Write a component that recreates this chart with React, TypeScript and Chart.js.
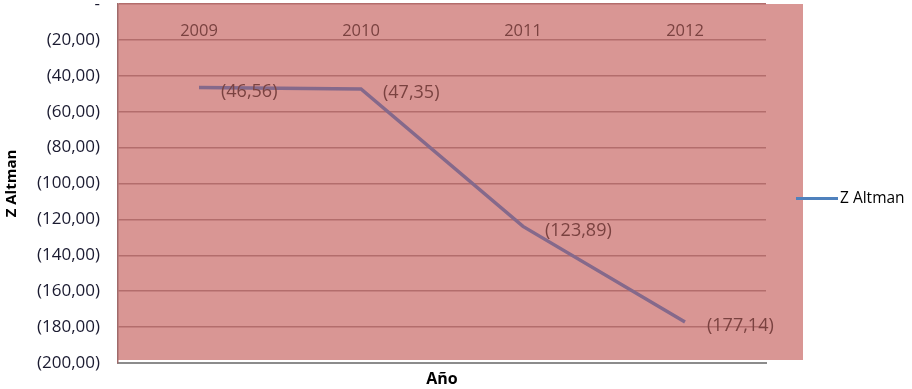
import { useEffect, useRef } from "react";
import { Chart, registerables } from "chart.js";

Chart.register(...registerables);

// Z Altman score per year
const years = ["2009", "2010", "2011", "2012"];
const zAltman = [-46.56, -47.35, -123.89, -177.14];
const seriesName = "Z Altman";
const xTitle = "Año";
const yTitle = "Z Altman";
const yMin = -200;
const yMax = 0;
const yStep = 20;

const FONT = "'Open Sans', 'Noto Sans', sans-serif";
const PLOT_BG = "#d99694";
const GRID = "#b36d6c";
const LINE = "#85698b";
const LABEL_TEXT = "#7a4240";
const LEGEND_LINE = "#4f81bd";

// accounting style: negatives in parentheses, zero as a dash
const fmt = (v: number) =>
  v === 0 ? "-" : `(${Math.abs(v).toFixed(2).replace(".", ",")})`;

const plotBackground = {
  id: "plotBackground",
  beforeDraw(chart: any) {
    const { ctx, chartArea } = chart;
    ctx.save();
    ctx.fillStyle = PLOT_BG;
    ctx.fillRect(
      chartArea.left,
      chartArea.top,
      chartArea.right - chartArea.left + 37,
      chartArea.bottom - chartArea.top - 3
    );
    ctx.restore();
  },
};

const categoryLabels = {
  id: "categoryLabels",
  afterDraw(chart: any) {
    const { ctx, chartArea } = chart;
    const xs = chart.scales.x;
    ctx.save();
    ctx.font = `16.5px ${FONT}`;
    ctx.fillStyle = LABEL_TEXT;
    ctx.textAlign = "center";
    ctx.textBaseline = "middle";
    years.forEach((y, i) => {
      ctx.fillText(y, xs.getPixelForValue(i), chartArea.top + 27);
    });
    ctx.restore();
  },
};

const valueLabels = {
  id: "valueLabels",
  afterDatasetsDraw(chart: any) {
    const { ctx } = chart;
    const meta = chart.getDatasetMeta(0);
    ctx.save();
    ctx.font = `18px ${FONT}`;
    ctx.fillStyle = LABEL_TEXT;
    ctx.textAlign = "left";
    ctx.textBaseline = "middle";
    meta.data.forEach((pt: any, i: number) => {
      ctx.fillText(fmt(zAltman[i]), pt.x + 22, pt.y + 4);
    });
    ctx.restore();
  },
};

const sideLegend = {
  id: "sideLegend",
  afterDraw(chart: any) {
    const { ctx, chartArea } = chart;
    const x0 = chartArea.right + 30;
    const y = (chartArea.top + chartArea.bottom) / 2 + 15;
    ctx.save();
    ctx.strokeStyle = LEGEND_LINE;
    ctx.lineWidth = 3;
    ctx.beginPath();
    ctx.moveTo(x0, y);
    ctx.lineTo(x0 + 42, y);
    ctx.stroke();
    ctx.font = `15.5px ${FONT}`;
    ctx.fillStyle = "#000";
    ctx.textAlign = "left";
    ctx.textBaseline = "middle";
    ctx.fillText(chart.data.datasets[0].label, x0 + 44, y);
    ctx.restore();
  },
};

export default function App() {
  const ref = useRef<HTMLCanvasElement>(null);

  useEffect(() => {
    if (!ref.current) return;
    const chart = new Chart(ref.current, {
      type: "line",
      data: {
        labels: years,
        datasets: [
          {
            label: seriesName,
            data: zAltman,
            borderColor: LINE,
            borderWidth: 3.5,
            pointRadius: 0,
            tension: 0,
            fill: false,
          },
        ],
      },
      options: {
        responsive: false,
        animation: false,
        layout: { padding: { top: 4, right: 146, left: 0, bottom: 0 } },
        plugins: {
          legend: { display: false },
          tooltip: { enabled: false },
        },
        scales: {
          x: {
            type: "category",
            position: "bottom",
            offset: true,
            grid: { display: false, drawTicks: false },
            border: { color: "#8c8c8c", width: 2 },
            ticks: { display: false },
            title: {
              display: true,
              text: xTitle,
              color: "#000",
              font: { family: FONT, size: 16, weight: "bold" },
              padding: { top: 0, bottom: 0 },
            },
            afterFit: (s: any) => {
              s.height = 26;
              s.paddingLeft = 0;
              s.paddingRight = 0;
            },
          },
          y: {
            min: yMin,
            max: yMax,
            grid: { color: GRID, lineWidth: 1.5, drawTicks: false },
            border: { color: "#a06a6a", width: 1.5 },
            ticks: {
              stepSize: yStep,
              padding: 18,
              color: "#1a1a30",
              font: { family: FONT, size: 17 },
              callback: (v: any) => fmt(Number(v)),
            },
            title: {
              display: true,
              text: yTitle,
              color: "#000",
              font: { family: FONT, size: 15, weight: "bold" },
              padding: { top: 3, bottom: 0 },
            },
            afterFit: (s: any) => {
              s.width = 118;
              s.paddingTop = 0;
              s.paddingBottom = 0;
            },
          },
        },
      },
      plugins: [plotBackground, categoryLabels, valueLabels, sideLegend],
    });
    return () => chart.destroy();
  }, []);

  return (
    <div style={{ position: "fixed", left: 0, top: 0, width: 912, height: 389, background: "#fff" }}>
      <canvas ref={ref} width={912} height={389} style={{ width: 912, height: 389 }} />
    </div>
  );
}
